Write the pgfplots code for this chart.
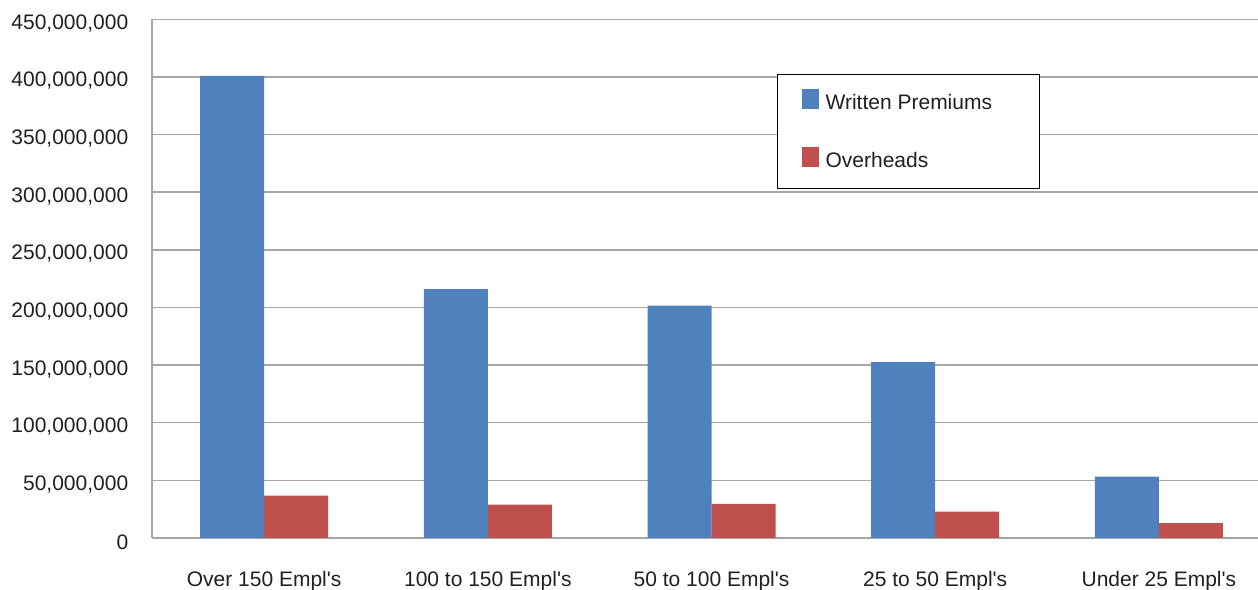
\documentclass[border=0pt]{standalone}
\usepackage{pgfplots}
\pgfplotsset{compat=1.18}
\usepackage{fontspec}
\setmainfont{Liberation Sans}[Ligatures=TeXOff]
\definecolor{wpblue}{HTML}{4F81BD}
\definecolor{ohred}{HTML}{C0504D}
\definecolor{gridgray}{HTML}{A6A6A6}
\definecolor{txt}{HTML}{202020}

% Written premiums and overheads by company size
\pgfplotstableread{
x premiums overheads
0 401000000 36800000
1 216000000 29000000
2 201500000 29500000
3 152500000 22800000
4 53200000 12900000
}\datatable

\begin{document}
\begin{tikzpicture}
\begin{axis}[
  scale only axis,
  width=552.85pt, height=259.35pt,
  ybar=0pt, bar width=32pt,
  xmin=-0.5, xmax=4.443,
  ymin=0, ymax=450000000,
  ytick={0,50000000,...,450000000},
  xtick=data,
  xticklabels={Over 150 Empl's,100 to 150 Empl's,50 to 100 Empl's,25 to 50 Empl's,Under 25 Empl's},
  major tick length=0pt,
  scaled y ticks=false,
  yticklabel style={/pgf/number format/fixed, /pgf/number format/1000 sep={,},
    /pgf/number format/assume math mode=true, xshift=-8.5pt, yshift=-2pt},
  font=\fontsize{10.5}{12.6}\selectfont,
  tick label style={text=txt},
  xticklabel style={yshift=-13pt},
  ymajorgrids, grid style={gridgray, line width=0.7pt},
  axis x line*=bottom, axis y line*=left,
  axis line style={gridgray, line width=0.9pt, -},
  legend cell align=left,
  legend style={at={(axis description cs:0.565,0.8945)}, anchor=north west,
    draw=black, line width=0.6pt, inner xsep=12pt, inner ysep=7pt, row sep=15pt,
    font=\fontsize{10.5}{12.6}\selectfont, text=txt},
  legend image code/.code={\fill[#1] (0pt,-2.5pt) rectangle (8.5pt,7.5pt);
    \path (0pt,0pt) -- (10pt,0pt);},
]
\addplot[fill=wpblue, draw=none] table[x=x, y=premiums] {\datatable};
\addlegendentry{\makebox[93pt][l]{Written Premiums}}
\addplot[fill=ohred, draw=none] table[x=x, y=overheads] {\datatable};
\addlegendentry{\makebox[93pt][l]{Overheads}}
\end{axis}
\pgfresetboundingbox
\path[use as bounding box] ([xshift=-76.15pt,yshift=-26pt]current axis.south west) rectangle ([yshift=9.65pt]current axis.north east);
\end{tikzpicture}
\end{document}
